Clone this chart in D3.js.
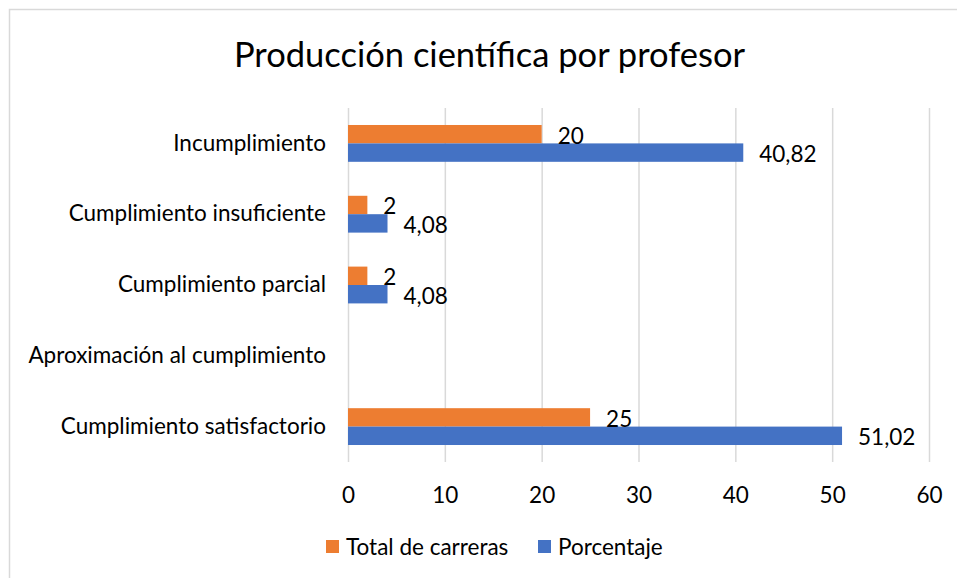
<!DOCTYPE html>
<html>
<head>
<meta charset="utf-8">
<script src="https://cdn.jsdelivr.net/npm/d3@7"></script>
<style>
  body { margin: 0; background: #fff; }
  text { font-family: Lato, "Noto Sans", sans-serif; fill: #000; }
</style>
</head>
<body>
<div id="graf"></div>
<script>
// Datos
const categorias = [
  "Incumplimiento",
  "Cumplimiento insuficiente",
  "Cumplimiento parcial",
  "Aproximación al cumplimiento",
  "Cumplimiento satisfactorio",
]
const series = ["Total de carreras", "Porcentaje"]
const totalCarreras = [20, 2, 2, null, 25]
const porcentaje = [40.82, 4.08, 4.08, null, 51.02]
const ticksX = [0, 10, 20, 30, 40, 50, 60]
const colores = ["#ED7D31", "#4472C4"]

const data = categorias.map((c, i) => ({
  categoria: c,
  valores: [
    { serie: series[0], valor: totalCarreras[i] },
    { serie: series[1], valor: porcentaje[i] },
  ],
}))

// Dimensiones
const anchoTotal = 957
const altoTotal = 578
const margins = { top: 108, right: 28, bottom: 116, left: 348 }
const ancho = 581
const alto = altoTotal - margins.top - margins.bottom

const svg = d3
  .select("#graf")
  .append("svg")
  .attr("width", anchoTotal)
  .attr("height", altoTotal)

// Borde del area del grafico
svg
  .append("rect")
  .attr("x", 9.5)
  .attr("y", 9.5)
  .attr("width", 1000)
  .attr("height", 1000)
  .attr("fill", "none")
  .attr("stroke", "#d9d9d9")
  .attr("stroke-width", 1.5)

const g = svg
  .append("g")
  .attr("transform", `translate(${margins.left}, ${margins.top})`)

// Escaladores
const x = d3.scaleLinear().domain([0, 60]).range([0, ancho])
const y = d3
  .scaleBand()
  .domain(categorias)
  .range([0, alto])
  .paddingInner(0.48)
  .paddingOuter(0.24)
const ySerie = d3.scaleBand().domain(series).range([0, y.bandwidth()])
const color = d3.scaleOrdinal().domain(series).range(colores)

// Rejilla
g.append("g")
  .call(d3.axisBottom(x).tickValues(ticksX).tickSize(alto).tickFormat(""))
  .call((s) => s.select(".domain").remove())
  .call((s) =>
    s.selectAll(".tick line").attr("stroke", "#d9d9d9").attr("stroke-width", 1.5)
  )

// Eje X (etiquetas)
g.append("g")
  .attr("transform", `translate(0, ${alto})`)
  .call(d3.axisBottom(x).tickValues(ticksX).tickSize(0).tickPadding(25))
  .call((s) => s.select(".domain").remove())
  .selectAll("text")
  .attr("font-size", 22.5)
  .attr("font-family", "Lato")

// Eje Y (categorias)
g.append("g")
  .call(d3.axisLeft(y).tickSize(0).tickPadding(22))
  .call((s) => s.select(".domain").remove())
  .selectAll("text")
  .attr("font-size", 22.5)
  .attr("font-family", "Lato")

// Barras
const grupos = g
  .selectAll(".grupo")
  .data(data)
  .enter()
  .append("g")
  .attr("class", "grupo")
  .attr("transform", (d) => `translate(0, ${y(d.categoria)})`)

const conValor = (d) => d.valores.filter((v) => v.valor != null)

grupos
  .selectAll("rect")
  .data(conValor)
  .enter()
  .append("rect")
  .attr("x", x(0))
  .attr("y", (d) => ySerie(d.serie))
  .attr("width", (d) => x(d.valor) - x(0))
  .attr("height", ySerie.bandwidth())
  .attr("fill", (d) => color(d.serie))

// Etiquetas de datos
grupos
  .selectAll(".etiqueta")
  .data(conValor)
  .enter()
  .append("text")
  .attr("class", "etiqueta")
  .attr("x", (d) => x(d.valor) + 16)
  .attr("y", (d) => ySerie(d.serie) + ySerie.bandwidth() / 2 + 1.5)
  .attr("dy", "0.35em")
  .attr("font-size", 22.5)
  .text((d) => String(d.valor).replace(".", ","))

// Titulo
svg
  .append("text")
  .attr("x", 489.5)
  .attr("y", 67)
  .attr("text-anchor", "middle")
  .attr("font-size", 34.5)
  .text("Producción científica por profesor")

// Leyenda
const leyendaX = [326, 538]
const leyenda = svg
  .selectAll(".leyenda")
  .data(series)
  .enter()
  .append("g")
  .attr("class", "leyenda")
  .attr("transform", (d, i) => `translate(${leyendaX[i]}, 540)`)

leyenda
  .append("rect")
  .attr("width", 13)
  .attr("height", 13)
  .attr("fill", (d) => color(d))

leyenda
  .append("text")
  .attr("x", 20)
  .attr("y", 7)
  .attr("dy", "0.35em")
  .attr("font-size", 22.5)
  .text((d) => d)
</script>
</body>
</html>
